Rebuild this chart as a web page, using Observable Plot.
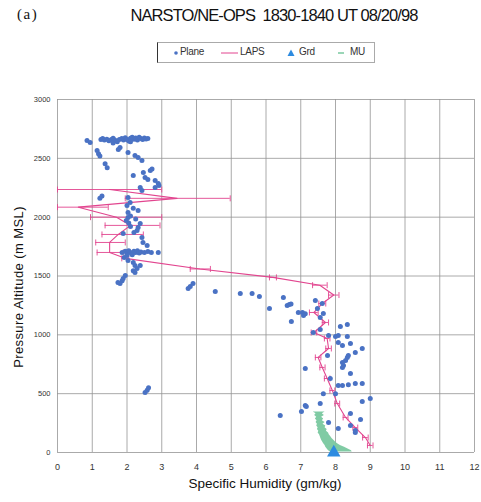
<!DOCTYPE html>
<html><head><meta charset="utf-8">
<script src="https://cdn.jsdelivr.net/npm/d3@7"></script>
<script src="https://cdn.jsdelivr.net/npm/@observablehq/plot@0.6"></script>
<style>
body{margin:0;background:#fff;}
#wrap{position:relative;width:481px;height:502px;font-family:"Liberation Sans",Arial,sans-serif;color:#111;}
.abs{position:absolute;white-space:pre;}
</style></head><body><div id="wrap"></div>
<script>
// ---------- data ----------
const titleText = "NARSTO/NE-OPS  1830-1840 UT 08/20/98";
const panelLabel = "(a)";
const xLabel = "Specific Humidity (gm/kg)";
const yLabel = "Pressure Altitude (m MSL)";
const seriesNames = ["Plane", "LAPS", "Grd", "MU"];
const xTicks = [0,1,2,3,4,5,6,7,8,9,10,11,12];
const yTicks = [0,500,1000,1500,2000,2500,3000];

// Plane observations: specific humidity (g/kg), altitude (m)
const planeQ = [0.85,0.94,1.25,1.3,1.35,1.42,1.48,1.55,1.6,1.65,1.72,1.78,1.85,1.9,1.95,2.0,2.05,2.1,2.15,2.2,2.25,2.3,2.35,2.4,2.45,2.5,2.55,2.6,1.8,1.75,2.03,1.6,2.1,
  1.14,1.18,1.22,1.37,1.43,
  2.23,2.32,2.43,2.18,2.47,2.67,2.72,2.52,2.81,2.9,2.81,2.92,2.38,2.43,2.6,
  1.22,1.28,2.03,2.09,2.0,2.18,2.32,2.03,2.1,2.03,1.98,2.25,2.38,2.32,2.29,2.2,2.43,2.46,2.58,1.89,2.1,2.05,
  1.86,1.95,2.0,2.05,2.1,2.15,2.2,2.25,2.3,2.35,2.4,2.5,2.6,2.7,2.9,2.0,2.15,1.92,2.03,2.18,2.23,2.38,2.29,2.23,2.18,
  1.95,1.89,1.86,1.8,1.74,
  2.52,2.58,2.62,
  3.76,3.82,3.9,4.54,5.26,5.6,5.81,6.1,6.5,6.61,6.67,6.72,6.93,7.05,7.13,6.73,
  7.08,7.42,7.48,7.62,7.65,7.56,7.36,7.56,8.14,8.34,7.8,8.0,8.08,8.34,8.08,8.2,8.43,8.77,8.57,8.37,8.34,8.29,8.2,8.23,7.77,7.13,8.2,8.43,8.08,8.2,8.37,8.57,8.77,7.85,7.65,8.0,7.56,8.77,9.0,7.13,7.02,6.41,8.43,8.72,7.8,8.08,8.57,8.43,8.57,7.16];
const planeAlt = [2652,2635,2660,2668,2655,2662,2650,2660,2670,2655,2640,2660,2668,2655,2675,2660,2648,2670,2680,2662,2672,2655,2680,2668,2660,2672,2665,2668,2592,2575,2550,2630,2640,
  2567,2540,2520,2455,2420,
  2524,2507,2482,2355,2380,2397,2410,2338,2312,2286,2252,2270,2252,2227,2320,
  2160,2180,2168,2125,2100,2075,2057,2040,2010,1997,1972,1985,1947,1912,1887,1870,1827,1785,1760,1861,1920,1950,
  1700,1710,1690,1715,1700,1690,1710,1700,1715,1695,1705,1700,1708,1700,1700,1675,1680,1658,1632,1615,1590,1590,1564,1530,1545,
  1504,1479,1460,1436,1445,
  510,530,550,
  1394,1410,1436,1368,1351,1351,1326,1224,1318,1250,1258,1262,1190,1190,1180,1113,
  1164,1292,1224,1266,1181,1148,1020,1045,1071,1088,994,986,994,986,935,910,926,884,850,824,808,782,765,740,824,714,723,671,570,570,575,586,586,629,500,500,416,433,459,400,348,314,331,280,255,204,187,230,170,391];

// LAPS profile with error bar limits
const lapsAlt = [2235,2160,2085,2000,1930,1853,1785,1700,1650,1560,1488,1422,1338,1266,1190,1105,1020,969,884,808,723,629,527,416,298,212,127,60];
const lapsQ   = [1.5,3.44,0.6,1.7,2.1,1.75,1.5,1.5,1.95,4.1,6.2,7.55,7.95,7.62,7.38,7.71,7.38,7.76,7.8,7.5,7.62,7.76,7.91,8.05,8.29,8.57,8.86,9.0];
const lapsLo  = [0,1.95,0,0.95,1.37,1.28,1.1,1.14,1.85,3.82,6.1,7.34,7.8,7.52,7.25,7.62,7.3,7.68,7.72,7.42,7.55,7.68,7.84,7.98,8.22,8.5,8.78,8.92];
const lapsHi  = [3.0,4.97,1.46,3.0,2.95,2.47,1.95,1.89,2.05,4.4,6.3,7.76,8.1,7.72,7.5,7.8,7.46,7.84,7.88,7.58,7.7,7.84,7.98,8.12,8.36,8.64,8.94,9.08];

// MU band: altitude with left/right limits
const muAlt = [345,330,315,300,285,270,255,240,225,210,195,180,165,150,135,120,105,90,75,60,45,30,15,5];
const muLo  = [7.36,7.44,7.4,7.46,7.42,7.47,7.44,7.48,7.46,7.5,7.48,7.52,7.5,7.54,7.56,7.58,7.6,7.63,7.66,7.7,7.72,7.76,7.8,7.86];
const muHi  = [7.7,7.62,7.68,7.6,7.66,7.62,7.7,7.64,7.72,7.7,7.76,7.74,7.8,7.82,7.86,7.9,7.95,8.0,8.06,8.14,8.26,8.36,8.46,8.48];

// Ground measurement
const grdQ = [7.95];
const grdAlt = [0];

// ---------- colours ----------
const cPlane = "#4a72c4", cLaps = "#e2458f", cMU = "#79c89f", cGrd = "#2d8be0", cGrid = "#949494";

const plane = planeQ.map((q,i)=>({q, alt: planeAlt[i]}));
const laps = lapsQ.map((q,i)=>({q, alt: lapsAlt[i], lo: lapsLo[i], hi: lapsHi[i]}));
const mu = muAlt.map((a,i)=>({alt:a, lo: muLo[i], hi: muHi[i]}));
const grd = grdQ.map((q,i)=>({q, alt: grdAlt[i]}));

const vline = {draw(ctx, size){ const r = Math.sqrt(size/Math.PI); ctx.moveTo(0,-r); ctx.lineTo(0,r);} };

const plot = Plot.plot({
  width: 481, height: 502,
  marginLeft: 57, marginRight: 7, marginTop: 99, marginBottom: 50,
  x: {domain: [0,12]},
  y: {domain: [0,3000]},
  style: {fontFamily: "'Liberation Sans', Arial, sans-serif", background: "transparent"},
  marks: [
    Plot.gridX(xTicks, {stroke: cGrid, strokeOpacity: 1, strokeWidth: 0.8}),
    Plot.gridY(yTicks, {stroke: cGrid, strokeOpacity: 1, strokeWidth: 0.8}),
    Plot.axisX(xTicks, {tickSize: 0, tickPadding: 11, fontSize: 9, fill: "#333", label: null, tickFormat: d => String(d)}),
    Plot.axisY(yTicks, {tickSize: 0, tickPadding: 7, fontSize: 7.5, fill: "#333", label: null, tickFormat: d => String(d)}),
    Plot.areaX(mu, {y: "alt", x1: "lo", x2: "hi", fill: cMU, fillOpacity: 0.95}),
    Plot.ruleY(laps, {y: "alt", x1: "lo", x2: "hi", stroke: cLaps, strokeWidth: 0.9}),
    Plot.dot(laps, {x: "lo", y: "alt", symbol: vline, r: 3, stroke: cLaps, strokeWidth: 0.9}),
    Plot.dot(laps, {x: "hi", y: "alt", symbol: vline, r: 3, stroke: cLaps, strokeWidth: 0.9}),
    Plot.line(laps, {x: "q", y: "alt", stroke: cLaps, strokeWidth: 1.1}),
    Plot.dot(plane, {x: "q", y: "alt", r: 2.5, fill: cPlane, stroke: "none"}),
    Plot.dot(grd, {x: "q", y: "alt", symbol: "triangle", r: 5, fill: cGrd, stroke: "none"})
  ]
});

const wrap = document.getElementById("wrap");
plot.style.position = "absolute"; plot.style.left = "0"; plot.style.top = "0";
wrap.appendChild(plot);

function addText(txt, css){ const d = document.createElement("div"); d.className = "abs"; d.textContent = txt; Object.assign(d.style, css); wrap.appendChild(d); return d; }

addText(panelLabel, {left: "17px", top: "6px", fontFamily: "'Liberation Serif', 'Times New Roman', serif", fontSize: "15px", letterSpacing: "1.5px"});
addText(titleText, {left: "274px", top: "6px", transform: "translateX(-50%)", fontSize: "16.5px", letterSpacing: "-0.9px"});
addText(xLabel, {left: "265px", top: "476px", transform: "translateX(-50%)", fontSize: "13.5px"});
addText(yLabel, {left: "18px", top: "287px", transform: "translate(-50%,-50%) rotate(-90deg)", fontSize: "13px", letterSpacing: "0.4px"});

// legend
const leg = document.createElement("div");
leg.className = "abs";
Object.assign(leg.style, {left: "157px", top: "42px", width: "218px", height: "21px", border: "1px solid #aaa", borderLeft: "1.5px solid #333", boxSizing: "border-box", fontSize: "10px", color: "#333"});
wrap.appendChild(leg);
const swatches = [
  {x: 13, name: seriesNames[0], svg: `<circle cx="5" cy="5" r="1.8" fill="${cPlane}"/>`, tx: 22},
  {x: 63, name: seriesNames[1], svg: `<line x1="0" y1="5" x2="17" y2="5" stroke="${cLaps}" stroke-width="1"/>`, tx: 82},
  {x: 128, name: seriesNames[2], svg: `<path d="M5,1.5 L8.5,8 L1.5,8 Z" fill="${cGrd}"/>`, tx: 141},
  {x: 178, name: seriesNames[3], svg: `<line x1="2" y1="5" x2="8" y2="5" stroke="${cMU}" stroke-width="1.5"/>`, tx: 192}
];
for (const s of swatches){
  const sv = document.createElementNS("http://www.w3.org/2000/svg","svg");
  sv.setAttribute("width", s.name === "LAPS" ? "18" : "10"); sv.setAttribute("height","10");
  sv.innerHTML = s.svg;
  Object.assign(sv.style, {position: "absolute", left: s.x + "px", top: "4.5px"});
  leg.appendChild(sv);
  const t = document.createElement("div"); t.className = "abs"; t.textContent = s.name;
  Object.assign(t.style, {left: s.tx + "px", top: "3px", letterSpacing: "-0.3px"});
  leg.appendChild(t);
}
</script>
</body></html>
